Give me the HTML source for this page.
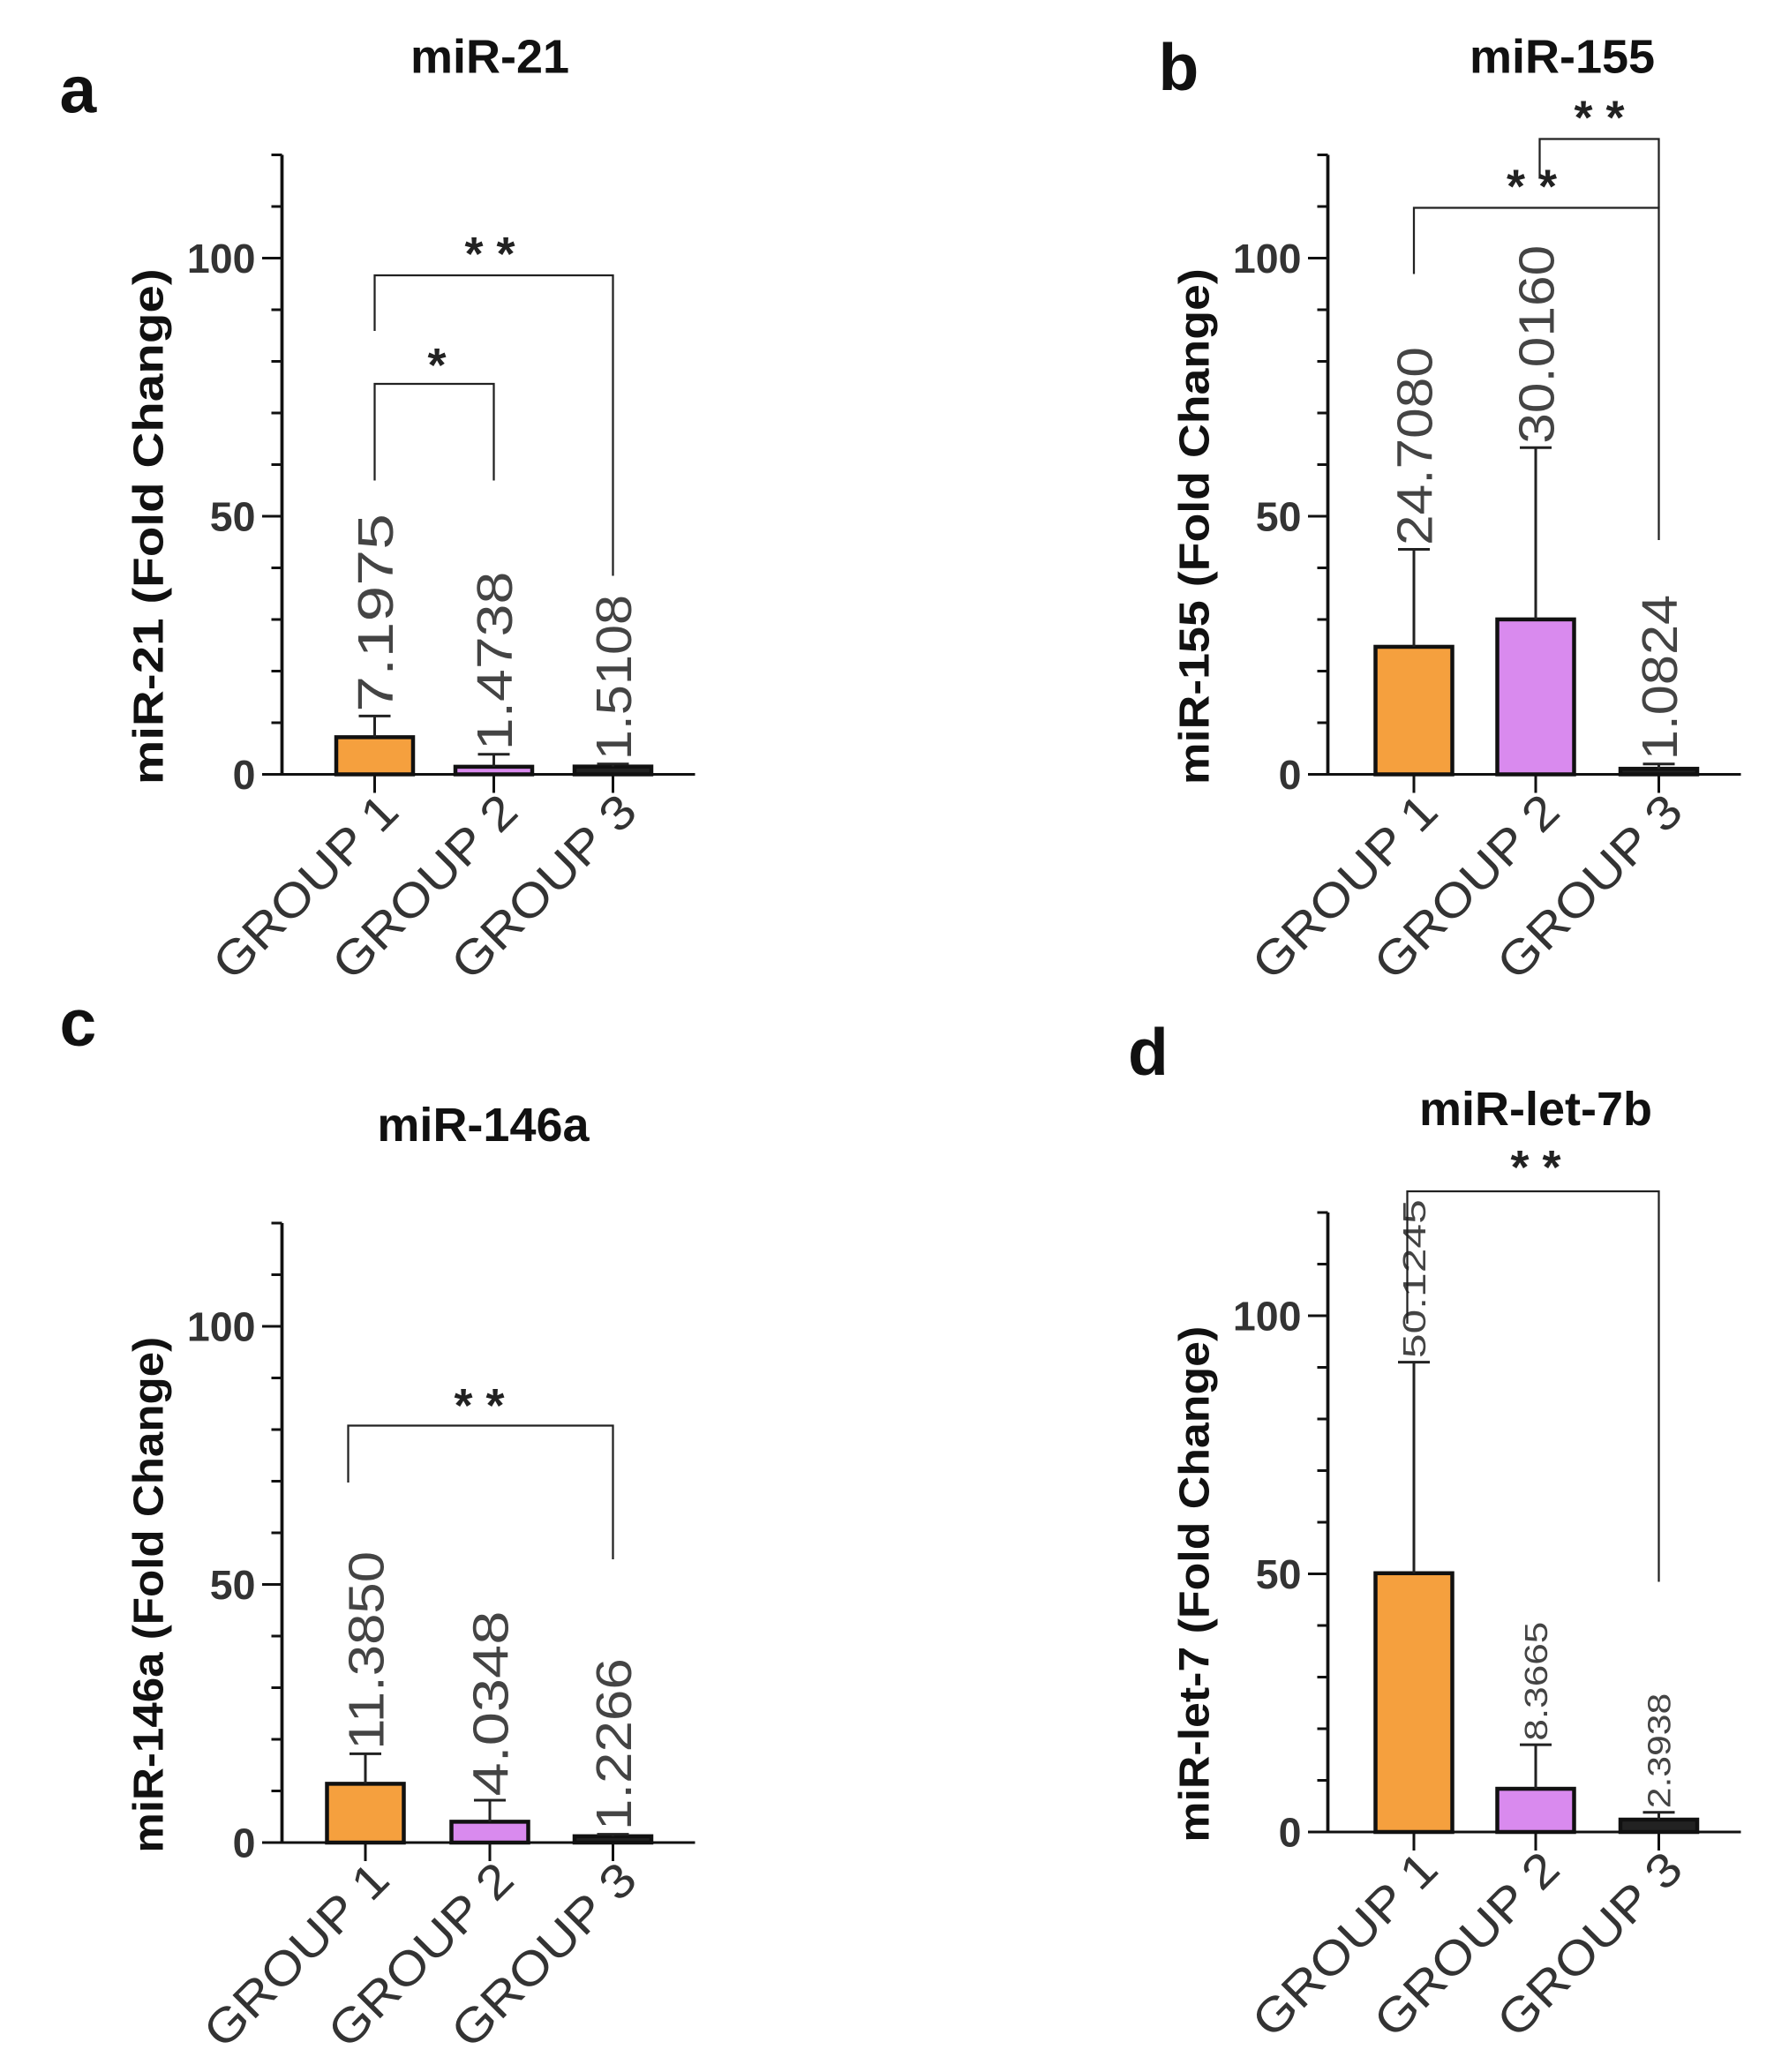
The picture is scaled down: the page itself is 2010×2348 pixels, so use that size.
<!DOCTYPE html>
<html><head><meta charset="utf-8">
<style>
html,body{margin:0;padding:0;background:#fff;}
svg{display:block;}
text{font-family:"Liberation Sans",Arial,sans-serif;}
</style></head>
<body>
<svg id="fig" xmlns="http://www.w3.org/2000/svg" width="2010" height="2348" viewBox="0 0 1340 1565.33">
<rect width="1340" height="1566" fill="#fff"/>
</svg>
<script>
// ---- data ----
const categories = ["GROUP 1","GROUP 2","GROUP 3"];
const meansA = [7.1975, 1.4738, 1.5108];
const upperA = [11.3, 3.9, 2.0];
const labelsA = ["7.1975","1.4738","1.5108"];
const meansB = [24.708, 30.016, 1.0824];
const upperB = [43.6, 63.3, 2.0];
const labelsB = ["24.7080","30.0160","1.0824"];
const meansC = [11.385, 4.0348, 1.2266];
const upperC = [17.2, 8.2, 1.6];
const labelsC = ["11.3850","4.0348","1.2266"];
const meansD = [50.1245, 8.3665, 2.3938];
const upperD = [91, 16.9, 3.8];
const labelsD = ["50.1245","8.3665","2.3938"];
const yTicks = [0, 50, 100];
const yMax = 120;

const NS = "http://www.w3.org/2000/svg";
const svg = document.getElementById('fig');
const colors = ["#F5A03E","#D98AEE","#222"];

function el(tag, attrs, parent, text){
  const e = document.createElementNS(NS, tag);
  for (const k in attrs) e.setAttribute(k, attrs[k]);
  if (text !== undefined) e.textContent = text;
  (parent || svg).appendChild(e);
  return e;
}
function fit(t, target, pre){
  const w = t.getComputedTextLength();
  const s = w > 0 ? target / w : 1;
  t.setAttribute('transform', pre + ` scale(${s},1)`);
}

const panels = [
  {key:'a', letter:'a', lx:45, ly:85, title:'miR-21', tx:370, ty:55, ylab:'miR-21 (Fold Change)', axX:213, zeroY:585, xEnd:525, centers:[283,373,463], means:meansA, upper:upperA, labels:labelsA, lblFont:38, lblLen:[150,135,125],
    brackets:[{x1:283,x2:373,top:290,b1:363,b2:363,star:'*',sx:330,sy:272},{x1:283,x2:463,top:208,b1:250,b2:435,star:'* *',sx:370,sy:188}]},
  {key:'b', letter:'b', lx:875, ly:68, title:'miR-155', tx:1180, ty:55, ylab:'miR-155 (Fold Change)', axX:1003, zeroY:585, xEnd:1315, centers:[1068,1160,1253], means:meansB, upper:upperB, labels:labelsB, lblFont:38, lblLen:[150,150,125],
    brackets:[{x1:1068,x2:1253,top:157,b1:207,b2:408,star:'* *',sx:1157,sy:137},{x1:1163,x2:1253,top:105,b1:135,b2:157,star:'* *',sx:1208,sy:85}]},
  {key:'c', letter:'c', lx:45, ly:790, title:'miR-146a', tx:365, ty:862, ylab:'miR-146a (Fold Change)', axX:213, zeroY:1392, xEnd:525, centers:[276,370,463], means:meansC, upper:upperC, labels:labelsC, lblFont:38, lblLen:[150,140,130],
    brackets:[{x1:263,x2:463,top:1077,b1:1120,b2:1178,star:'* *',sx:362,sy:1058}]},
  {key:'d', letter:'d', lx:852, ly:812, title:'miR-let-7b', tx:1160, ty:850, ylab:'miR-let-7 (Fold Change)', axX:1003, zeroY:1384, xEnd:1315, centers:[1068,1160,1253], means:meansD, upper:upperD, labels:labelsD, lblFont:24, lblLen:[120,90,87],
    brackets:[{x1:1063,x2:1253,top:900,b1:1000,b2:1195,star:'* *',sx:1160,sy:878}]}
];
const pxPerUnit = 3.9;

panels.forEach(p => {
  const g = el('g', {});
  
  
  const y = v => p.zeroY - v * pxPerUnit;

  const L = el('text', {x:p.lx, y:p.ly, 'font-size':50, 'font-weight':'bold', fill:'#111'}, g, p.letter);
  
  
  const T = el('text', {x:p.tx, y:p.ty, 'font-size':36, 'font-weight':'bold', 'text-anchor':'middle', fill:'#111'}, g, p.title);
  
  

  const ya = el('line', {x1:p.axX, x2:p.axX, y1:y(yMax), y2:y(0), stroke:'#111', 'stroke-width':2.5}, g);
  
  
  for (let v = 0; v <= yMax; v += 10) {
    const major = yTicks.includes(v);
    el('line', {x1:p.axX - (major ? 15 : 8), x2:p.axX, y1:y(v), y2:y(v), stroke:'#111', 'stroke-width':2}, g);
  }
  yTicks.forEach(v => {
    const t = el('text', {x:p.axX - 20, y:y(v) + 11, 'font-size':31, 'font-weight':'bold', 'text-anchor':'end', fill:'#333'}, g, String(v));
    
    
  });
  const yl = el('text', {x:0, y:0, 'font-size':32, 'font-weight':'bold', 'text-anchor':'middle', fill:'#111'}, g, p.ylab);
  
  
  fit(yl, 390, `translate(${p.axX - 90},${y(48)}) rotate(-90)`);

  const xa = el('line', {x1:p.axX - 15, x2:p.xEnd, y1:y(0), y2:y(0), stroke:'#111', 'stroke-width':2}, g);
  
  

  categories.forEach((c, i) => {
    const cx = p.centers[i];
    const top = y(p.means[i]);
    const bar = el('rect', {x:cx - 29, y:top, width:58, height:Math.max(p.zeroY - top, 0.5), fill:colors[i], stroke:'#111', 'stroke-width':3}, g);
    
    
    const cap = y(p.upper[i]);
    const eb = el('path', {d:`M${cx},${top} V${cap} M${cx - 12},${cap} H${cx + 12}`, stroke:'#222', 'stroke-width':2, fill:'none'}, g);
    
    
    const vl = el('text', {x:0, y:0, 'font-size':p.lblFont, fill:'#444'}, g, p.labels[i]);
    
    
    fit(vl, p.lblLen[i], `translate(${cx + p.lblFont * 0.36},${cap - 3}) rotate(-90)`);
    el('line', {x1:cx, x2:cx, y1:y(0), y2:y(0) + 14, stroke:'#111', 'stroke-width':2}, g);
    const gl = el('text', {x:0, y:0, 'font-size':36, fill:'#333', 'text-anchor':'end'}, g, c);
    
    
    fit(gl, 180, `translate(${cx + 20},${y(0) + 30}) rotate(-45)`);
  });

  p.brackets.forEach(b => {
    const br = el('path', {d:`M${b.x1},${b.b1} V${b.top} H${b.x2} V${b.b2}`, stroke:'#222', 'stroke-width':1.5, fill:'none'}, g);
    
    
    const st = el('text', {x:b.sx, y:b.sy + 16, 'font-size':36, 'font-weight':'bold', 'text-anchor':'middle', fill:'#222'}, g, b.star);
    
    
  });
});
</script>
</body></html>
